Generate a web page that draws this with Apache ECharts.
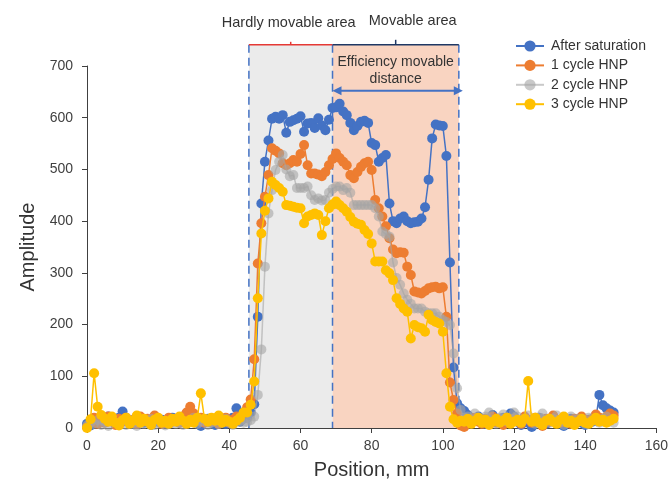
<!DOCTYPE html>
<html><head><meta charset="utf-8">
<script src="https://cdn.jsdelivr.net/npm/echarts@6/dist/echarts.min.js"></script>
<style>html,body{margin:0;padding:0;background:#fff}#c{width:671px;height:496px}</style>
</head><body><div id="c"></div>
<script>
const xTicks = [0,20,40,60,80,100,120,140,160];
const yTicks = [0,100,200,300,400,500,600,700];
const seriesNames = ['After saturation','1 cycle HNP','2 cycle HNP','3 cycle HNP'];
const afterSaturation = [
8,5,14,10,18,12,22,15,10,20,
32,18,12,8,15,20,10,14,6,18,
12,16,10,8,20,14,10,18,12,16,
20,10,4,14,18,10,6,12,16,8,
14,20,38,12,18,20,30,46,215,434,
515,556,598,602,598,605,571,592,595,598,
603,573,589,590,580,599,585,576,596,619,
620,627,612,605,590,576,584,592,594,590,
551,547,515,522,528,434,400,396,405,409,
400,396,398,399,405,427,480,560,587,585,
584,526,320,117,48,38,33,25,20,15,
22,12,8,18,25,14,10,20,16,28,
22,12,6,18,10,2,15,20,12,8,
14,22,16,10,4,12,18,8,14,10,
6,16,12,18,64,44,38,34,30];
const cycle1 = [
2,12,20,8,16,10,22,14,6,18,
12,20,10,16,8,22,14,18,10,24,
16,8,14,20,12,18,10,22,30,41,
28,15,20,10,16,12,18,8,14,20,
10,16,22,18,28,40,55,133,318,396,
447,489,541,536,531,512,508,512,518,515,
530,547,508,492,492,490,487,495,508,520,
531,522,515,508,489,483,495,505,512,515,
499,441,425,409,390,367,345,338,340,339,
312,296,264,262,260,265,270,272,273,270,
272,215,88,54,28,5,2,15,10,20,
12,8,18,14,22,10,16,6,20,12,
18,14,8,22,16,10,20,14,4,18,
12,24,16,10,20,14,8,18,12,22,
16,10,18,26,20,14,22,28,24];
const cycle2 = [
5,10,8,15,6,12,4,18,10,8,
14,6,16,10,4,12,8,14,18,6,
10,14,5,12,16,8,12,6,10,14,
20,8,12,16,6,10,14,8,12,18,
10,6,12,14,10,12,15,22,64,152,
312,415,460,499,515,528,500,487,489,464,
464,464,467,450,441,444,440,441,455,462,
467,467,460,464,455,431,431,431,431,431,
431,425,409,380,375,370,320,290,277,260,
248,240,231,231,231,225,222,222,222,215,
209,205,199,144,77,35,20,22,15,28,
18,10,22,30,14,8,20,26,12,18,
30,22,10,16,24,14,8,20,28,16,
10,18,24,12,6,16,22,10,18,14,
8,20,12,16,10,18,22,14,10];
const cycle3 = [
0,17,106,41,25,18,12,22,10,5,
15,20,8,14,24,10,18,12,6,16,
20,10,14,8,18,12,22,14,8,16,
10,20,67,18,12,20,14,24,10,16,
12,8,14,20,30,30,45,90,251,376,
420,444,476,470,464,457,431,430,428,426,
425,396,409,412,415,412,373,400,425,432,
438,431,425,418,408,399,395,393,383,375,
357,322,322,322,305,299,286,251,240,231,
225,173,199,195,193,186,219,209,205,202,
186,106,41,17,10,14,12,18,8,14,
20,10,16,6,12,18,10,14,20,8,
12,16,10,18,91,12,20,10,6,14,
18,12,8,16,22,10,14,6,12,18,
10,8,14,20,12,16,10,14,18];
const positions = afterSaturation.map((_, i) => i);
const zones = [45.5, 69, 104.5];
const zoneTop = 741;
const arrowLevel = 652;
const colors = ['#4472C4','#ED7D31','#A5A5A5','#FFC000'];
const allData = [afterSaturation, cycle1, cycle2, cycle3];
const FONT = 'Liberation Sans, Arial, sans-serif';

const chart = echarts.init(document.getElementById('c'));
chart.setOption({
  animation: false,
  backgroundColor: '#fff',
  grid: {left: 87, right: 14, top: 66, bottom: 68},
  legend: {
    orient: 'vertical', left: 510, top: 34,
    itemWidth: 28, itemHeight: 14, itemGap: 5.4,
    textStyle: {fontFamily: FONT, fontSize: 14, color: '#333', lineHeight: 14, padding: [0, 0, 0, 2]},
    data: seriesNames
  },
  xAxis: {
    type: 'value', min: 0, max: 160, interval: 20,
    name: 'Position, mm', nameLocation: 'middle', nameGap: 32,
    nameTextStyle: {fontFamily: FONT, fontSize: 20, color: '#333'},
    axisLine: {lineStyle: {color: '#404040', width: 1}},
    axisTick: {show: true, length: 5, lineStyle: {color: '#404040'}},
    axisLabel: {fontFamily: FONT, fontSize: 14, color: '#404040', margin: 11},
    splitLine: {show: false}
  },
  yAxis: {
    type: 'value', min: 0, max: 700, interval: 100,
    name: 'Amplitude', nameLocation: 'middle', nameGap: 44,
    nameTextStyle: {fontFamily: FONT, fontSize: 20, color: '#333'},
    axisLine: {show: true, lineStyle: {color: '#404040', width: 1}},
    axisTick: {show: true, length: 5, lineStyle: {color: '#404040'}},
    axisLabel: {fontFamily: FONT, fontSize: 14, color: '#404040', margin: 14},
    splitLine: {show: false}
  },
  series: seriesNames.map((n, k) => ({
    name: n, type: 'line', symbol: 'circle', symbolSize: 10, z: 2 + k,
    data: positions.map((x, i) => [x, allData[k][i]]),
    itemStyle: {color: colors[k], opacity: k === 2 ? 0.6 : 1},
    lineStyle: {color: colors[k], width: 1.5, opacity: k === 2 ? 0.6 : 1}
  }))
});

const px = v => chart.convertToPixel({xAxisIndex: 0}, v);
const py = v => chart.convertToPixel({yAxisIndex: 0}, v);
const x0 = px(zones[0]), x1 = px(zones[1]), x2 = px(zones[2]);
const yT = py(zoneTop), yB = py(0), yA = py(arrowLevel);
const g = [];
g.push({type: 'rect', z: 0, shape: {x: x0, y: yT, width: x1 - x0, height: yB - yT}, style: {fill: '#EBEBEB'}});
g.push({type: 'rect', z: 0, shape: {x: x1, y: yT, width: x2 - x1, height: yB - yT}, style: {fill: '#F9D4C1'}});
[x0, x1, x2].forEach(x => g.push({type: 'line', z: 1, shape: {x1: x, y1: yT, x2: x, y2: yB},
  style: {stroke: '#4472C4', lineWidth: 1.5, lineDash: [8, 5]}}));
const mA = (x0 + x1) / 2, mB = (x1 + x2) / 2;
g.push({type: 'polyline', z: 1, shape: {points: [[x0, yT], [x1, yT]]}, style: {stroke: '#E53935', lineWidth: 1.5, fill: null}});
g.push({type: 'line', z: 1, shape: {x1: mA, y1: yT, x2: mA, y2: yT - 3}, style: {stroke: '#E53935', lineWidth: 1.5}});
g.push({type: 'polyline', z: 1, shape: {points: [[x1, yT], [x2, yT]]}, style: {stroke: '#1F3864', lineWidth: 1.5, fill: null}});
g.push({type: 'line', z: 1, shape: {x1: mB, y1: yT, x2: mB, y2: yT - 5}, style: {stroke: '#1F3864', lineWidth: 1.5}});
g.push({type: 'text', z: 10, x: mA - 2, y: yT - 22, style: {text: 'Hardly movable area', font: '14.5px ' + FONT, fill: '#333', align: 'center', verticalAlign: 'middle'}});
g.push({type: 'text', z: 10, x: mB + 17, y: yT - 24, style: {text: 'Movable area', font: '14.5px ' + FONT, fill: '#333', align: 'center', verticalAlign: 'middle'}});
g.push({type: 'text', z: 10, x: mB, y: yT + 17, style: {text: 'Efficiency movable', font: '14px ' + FONT, fill: '#333', align: 'center', verticalAlign: 'middle'}});
g.push({type: 'text', z: 10, x: mB, y: yT + 34, style: {text: 'distance', font: '14px ' + FONT, fill: '#333', align: 'center', verticalAlign: 'middle'}});
g.push({type: 'line', z: 10, shape: {x1: x1 + 6, y1: yA, x2: x2 - 2, y2: yA}, style: {stroke: '#4472C4', lineWidth: 2}});
g.push({type: 'polygon', z: 10, shape: {points: [[x1, yA], [x1 + 9, yA - 4.5], [x1 + 9, yA + 4.5]]}, style: {fill: '#4472C4'}});
g.push({type: 'polygon', z: 10, shape: {points: [[x2 + 4, yA], [x2 - 5, yA - 4.5], [x2 - 5, yA + 4.5]]}, style: {fill: '#4472C4'}});
chart.setOption({graphic: g});
</script></body></html>
